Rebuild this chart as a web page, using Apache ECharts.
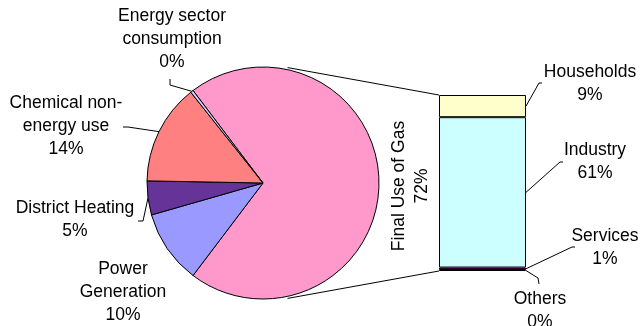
<!DOCTYPE html>
<html><head><meta charset="utf-8">
<script src="https://cdn.jsdelivr.net/npm/echarts@6/dist/echarts.min.js"></script>
<style>html,body{margin:0;padding:0;background:#fff}#c{width:643px;height:326px}</style>
</head><body><div id="c"></div>
<script>
// ---- data ----
const pieNames = ['Final Use of Gas', 'Power\nGeneration', 'District Heating', 'Chemical non-\nenergy use', 'Energy sector\nconsumption'];
const pieValues = [71.6, 10.4, 4.8, 14.2, 0.4];
const pieColors = ['#FF99CC', '#9999FF', '#663399', '#FF8080', '#CCCCFF'];
const barNames = ['Others', 'Services', 'Industry', 'Households'];
const barValues = [0.4, 1.0, 61, 9];
const barColors = ['#000080', '#660066', '#CCFFFF', '#FFFFCC'];

// ---- layout ----
const CX = 263, CY = 183, R = 116;
const G = { left: 439, top: 95, width: 87, height: 176 };
const FF = 'Liberation Sans, Arial, sans-serif', FS = 17.5, LH = 23;
const FONT = { fontFamily: FF, fontSize: FS, lineHeight: LH, color: '#000' };
const pieLabelPos = [
  { x: 411, y: 186, rotate: 90 },
  { x: 123, y: 292 },
  { x: 75, y: 220, line: [[143, 221], [138, 221]] },
  { x: 66, y: 126.5, line: [[128, 127], [123, 127]] },
  { x: 172, y: 39.5, line: [[170, 85], [170, 79]] }
];
const barLabelPos = [
  { x: 540, y: 311, line: [[538, 278], [539, 284]] },
  { x: 605, y: 247.5, line: [[572, 247], [575, 247]] },
  { x: 595, y: 161.5, line: [[560, 162], [563, 162]] },
  { x: 590, y: 83.5, line: [[539, 83], [542, 83]] }
];
const barTotal = barValues.reduce((a, b) => a + b, 0);
const pieTotal = pieValues.reduce((a, b) => a + b, 0);
const startAngle = (pieValues[0] / pieTotal) * 180;

const chart = echarts.init(document.getElementById('c'), null, { renderer: 'canvas' });

const series = [{
  type: 'pie',
  center: [CX, CY],
  radius: R,
  startAngle: startAngle,
  clockwise: true,
  animation: false,
  silent: true,
  itemStyle: { borderColor: '#000', borderWidth: 1 },
  label: { show: false },
  labelLine: { show: false },
  data: pieNames.map((n, i) => ({ name: n, value: pieValues[i], itemStyle: { color: pieColors[i] } }))
}];
barNames.forEach((n, i) => {
  series.push({
    type: 'bar',
    name: n,
    stack: 'gas',
    barWidth: '100%',
    animation: false,
    silent: true,
    itemStyle: { color: barColors[i], borderColor: '#000', borderWidth: 1 },
    label: Object.assign({ show: true, position: 'right', formatter: p => n + '\n' + Math.round(p.value) + '%' }, FONT),
    data: [barValues[i]]
  });
});

chart.setOption({
  backgroundColor: '#fff',
  animation: false,
  grid: G,
  xAxis: { type: 'category', data: ['gas'], show: false },
  yAxis: { type: 'value', min: 0, max: barTotal, show: false },
  labelLayout: function (params) {
    if (params.seriesIndex === 0) return {};
    const pos = barLabelPos[params.seriesIndex - 1];
    return { x: pos.x, y: pos.y, align: 'center', verticalAlign: 'middle' };
  },
  series: series
});

const graphics = [];
const lineStyle = { stroke: '#000', lineWidth: 1, fill: null };
// pie labels and leader lines
let cum = 0;
pieValues.forEach((v, i) => {
  const span = v / pieTotal * 360;
  const mid = (startAngle - (cum + span / 2)) * Math.PI / 180;
  cum += span;
  const pos = pieLabelPos[i];
  graphics.push({
    type: 'text', silent: true, x: pos.x, y: pos.y,
    rotation: pos.rotate ? pos.rotate * Math.PI / 180 : 0,
    style: { text: pieNames[i] + '\n' + Math.round(v) + '%', x: 0, y: 0, align: 'center', verticalAlign: 'middle', fontFamily: FF, fontSize: FS, lineHeight: LH, fill: '#000' }
  });
  if (pos.line) {
    graphics.push({
      type: 'polyline', silent: true,
      shape: { points: [[CX + R * Math.cos(mid), CY - R * Math.sin(mid)], pos.line[0], pos.line[1]] },
      style: lineStyle
    });
  }
});
// bar leader lines, from the right edge of each segment
let bcum = 0;
const barRight = G.left + G.width;
barValues.forEach((v, i) => {
  const y = chart.convertToPixel({ yAxisIndex: 0 }, bcum + v / 2);
  bcum += v;
  const pos = barLabelPos[i];
  graphics.push({ type: 'polyline', silent: true, shape: { points: [[barRight, y], pos.line[0], pos.line[1]] }, style: lineStyle });
});
// series lines joining the pie to the bar
const yTop = chart.convertToPixel({ yAxisIndex: 0 }, barTotal);
const yBot = chart.convertToPixel({ yAxisIndex: 0 }, 0);
const ang = 78 * Math.PI / 180, RR = R + 2;
graphics.push(
  { type: 'line', silent: true, shape: { x1: CX + RR * Math.cos(ang), y1: CY - RR * Math.sin(ang), x2: G.left, y2: yTop }, style: lineStyle },
  { type: 'line', silent: true, shape: { x1: CX + RR * Math.cos(ang), y1: CY + RR * Math.sin(ang), x2: G.left, y2: yBot }, style: lineStyle }
);
chart.setOption({ graphic: graphics });
</script>
</body></html>
